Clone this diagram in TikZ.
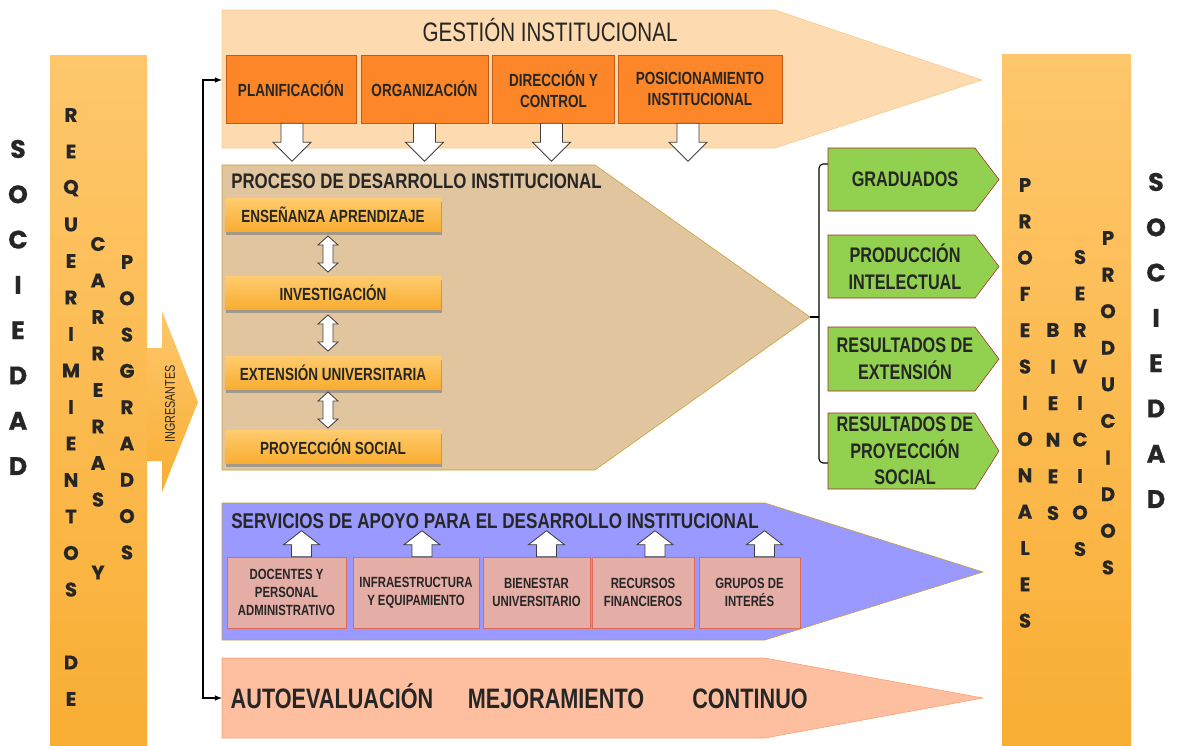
\documentclass[tikz,border=0pt]{standalone}
\usepackage{fontspec}
\setmainfont{Liberation Sans}
\newfontfamily\condfont[FakeStretch=0.77]{Liberation Sans}
\newfontfamily\titlefont[FakeStretch=0.8]{Liberation Sans}
\newfontfamily\gothfont[FakeBold=0.6]{Poppins}
\usetikzlibrary{calc,shadows,arrows.meta}

\definecolor{txtgray}{HTML}{262626}
\definecolor{barTop}{HTML}{FEC76C}
\definecolor{barBot}{HTML}{F9AE34}
\definecolor{gestFill}{HTML}{FDDAB0}
\definecolor{gestLine}{HTML}{F9C98E}
\definecolor{gestBox}{HTML}{FC8628}
\definecolor{gestBoxLine}{HTML}{C55A11}
\definecolor{procFill}{HTML}{E0C59F}
\definecolor{procLine}{HTML}{C8A030}
\definecolor{ensTop}{HTML}{FFCB6E}
\definecolor{ensBot}{HTML}{F9AD30}
\definecolor{greenFill}{HTML}{92D050}
\definecolor{greenLine}{HTML}{A52A2A}
\definecolor{servFill}{HTML}{9999FF}
\definecolor{servBox}{HTML}{E4ADA5}
\definecolor{servBoxLine}{HTML}{E06A55}
\definecolor{autoFill}{HTML}{FDBFA0}
\definecolor{autoLine}{HTML}{F9A070}

\begin{document}
\begin{tikzpicture}[x=0.025cm,y=-0.025cm,
    colletter/.style={inner sep=0pt,text=txtgray,font=\gothfont\bfseries\fontsize{14}{14}\selectfont},
    bigletter/.style={inner sep=0pt,text=txtgray,font=\gothfont\bfseries\fontsize{18}{18}\selectfont},
    gestbox/.style={draw=gestBoxLine,fill=gestBox,minimum height=1.7cm,inner sep=1pt,align=center,
        text=txtgray,font=\condfont\bfseries\fontsize{12.5}{15}\selectfont},
    ensbox/.style={top color=ensTop,bottom color=ensBot,minimum width=5.4cm,minimum height=0.82cm,inner sep=0pt,
        drop shadow={shadow xshift=0.6pt,shadow yshift=-2.2pt,opacity=0.65},
        text=txtgray,font=\condfont\bfseries\fontsize{12.5}{15}\selectfont},
    greentext/.style={align=center,inner sep=0pt,text=txtgray,font=\condfont\bfseries\fontsize{15}{19}\selectfont},
    servbox/.style={draw=servBoxLine,fill=servBox,minimum height=1.775cm,inner sep=1pt,align=center,
        text=txtgray,font=\condfont\bfseries\fontsize{10.5}{13}\selectfont},
    bigtitle/.style={anchor=west,inner sep=0pt,text=txtgray,font=\titlefont\bfseries\fontsize{15}{17}\selectfont},
    autotext/.style={anchor=base,inner sep=0pt,text=txtgray,font=\condfont\bfseries\fontsize{20}{22}\selectfont},
    blockarrow/.style={draw=black!75,fill=white,line width=0.6pt,line join=miter}]
\useasboundingbox (0,0) rectangle (1179,745);

% side bars
\shade[top color=barTop,bottom color=barBot] (50,55) rectangle (147,745);
\shade[top color=barTop,bottom color=barBot] (1002,54) rectangle (1131,745);
\shade[top color=barTop,bottom color=barBot] (147,348) -- (162,348) -- (162,311) -- (198,402)
    -- (162,492) -- (162,461) -- (147,461) -- cycle;
\node[rotate=90,inner sep=0pt,text=txtgray,font=\condfont\fontsize{10}{10}\selectfont] (ingr) at (170,404) {INGRESANTES};

% big arrows
\draw[draw=gestLine,fill=gestFill] (222,10) -- (775,10) -- (982,80) -- (775,148) -- (222,148) -- cycle;
\draw[draw=procLine,fill=procFill] (222,165) -- (595,165) -- (810,317) -- (595,470) -- (222,470) -- cycle;
\draw[draw=procLine,fill=servFill] (222,503) -- (765,503) -- (983,572) -- (765,640) -- (222,640) -- cycle;
\draw[draw=autoLine,fill=autoFill] (222,658) -- (765,658) -- (983,698) -- (765,738) -- (222,738) -- cycle;

% gestion institucional
\node[inner sep=0pt,text=txtgray,font=\condfont\fontsize{19}{22}\selectfont] (gesttitle) at (550,30) {GESTIÓN INSTITUCIONAL};
\node[gestbox,minimum width=3.25cm] (plan) at (291,89) {PLANIFICACIÓN};
\node[gestbox,minimum width=3.175cm] (org) at (424.5,89) {ORGANIZACIÓN};
\node[gestbox,minimum width=3.05cm] (dir) at (553.5,89) {DIRECCIÓN Y\\CONTROL};
\node[gestbox,minimum width=4.1cm] (pos) at (700,89) {POSICIONAMIENTO\\INSTITUCIONAL};
\foreach \n/\dx in {plan/1,org/0,dir/-2,pos/-12}
    \draw[blockarrow] ($(\n.south)+(\dx-11,0)$) -- ++(22,0) -- ++(0,19) -- ++(8,0) -- ++(-19,19)
        -- ++(-19,-19) -- ++(8,0) -- cycle;

% proceso de desarrollo institucional
\node[bigtitle] (proctitle) at (231,181) {PROCESO DE DESARROLLO INSTITUCIONAL};
\node[ensbox] (ens) at (333,215) {ENSEÑANZA APRENDIZAJE};
\node[ensbox] (inv) at (333,293) {INVESTIGACIÓN};
\node[ensbox] (ext) at (333,373) {EXTENSIÓN UNIVERSITARIA};
\node[ensbox] (proy) at (333,447) {PROYECCIÓN SOCIAL};
\foreach \a/\b [count=\i] in {ens/inv,inv/ext,ext/proy}{
    \coordinate (m\i) at ($(\a.south)!0.5!(\b.north)+(-5,0)$);
    \draw[blockarrow] ($(m\i)+(0,-18)$) -- ++(10,9) -- ++(-5,0) -- ++(0,18) -- ++(5,0) -- ++(-10,9)
        -- ++(-10,-9) -- ++(5,0) -- ++(0,-18) -- ++(-5,0) -- cycle;
}

% resultados
\draw[line width=0.8pt,rounded corners=3pt] (828,164) -- (819,164) -- (819,463) -- (828,463);
\draw[line width=0.8pt] (819,317) -- (810,317);
\foreach \n/\ya/\yb/\txt in {grad/148/211/GRADUADOS,
        prod/235/298/{PRODUCCIÓN\\INTELECTUAL},
        rext/327/391/{RESULTADOS DE\\EXTENSIÓN},
        rproy/413/489/{RESULTADOS DE\\PROYECCIÓN\\SOCIAL}}{
    \draw[draw=greenLine,fill=greenFill] (828,\ya) -- (975,\ya) -- (999,{(\ya+\yb)/2}) -- (975,\yb)
        -- (828,\yb) -- cycle;
    \node[greentext] (\n) at (905,{(\ya+\yb)/2}) {\txt};
}

% servicios de apoyo
\node[bigtitle,font=\titlefont\bfseries\fontsize{15.2}{17}\selectfont] (servtitle) at (231,521)
    {SERVICIOS DE APOYO PARA EL DESARROLLO INSTITUCIONAL};
\node[servbox,minimum width=2.975cm] (doc) at (286.5,592.5) {DOCENTES Y\\PERSONAL\\ADMINISTRATIVO};
\node[servbox,minimum width=3.15cm] (infra) at (416,592.5) {INFRAESTRUCTURA\\Y EQUIPAMIENTO};
\node[servbox,minimum width=2.675cm] (bien) at (536.5,592.5) {BIENESTAR\\UNIVERSITARIO};
\node[servbox,minimum width=2.55cm] (rec) at (643,592.5) {RECURSOS\\FINANCIEROS};
\node[servbox,minimum width=2.525cm] (grup) at (749.5,592.5) {GRUPOS DE\\INTERÉS};
\foreach \n/\dx in {doc/15,infra/6,bien/10,rec/12,grup/15}
    \draw[blockarrow] ($(\n.north)+(\dx-10,0)$) -- ++(20,0) -- ++(0,-12) -- ++(8,0) -- ++(-18,-14)
        -- ++(-18,14) -- ++(8,0) -- cycle;

% autoevaluacion
\node[autotext] (autoev) at (332,708) {AUTOEVALUACIÓN};
\node[autotext] (mejora) at (556,708) {MEJORAMIENTO};
\node[autotext] (contin) at (750,708) {CONTINUO};

% lazo de retroalimentacion
\coordinate (gestL) at (222,80);
\coordinate (autoL) at (222,698);
\draw[line width=0.8pt,{Latex[length=5pt,width=4pt]}-{Latex[length=5pt,width=4pt]}]
    (gestL) -- (203,80) -- (203,698) -- (autoL);

% letras verticales
\foreach \l [count=\i from 0] in {S,O,C,I,E,D,A,D}
    \node[bigletter] (socL\i) at (18,149+45.3*\i) {\l};
\foreach \l [count=\i from 0] in {R,E,Q,U,E,R,I,M,I,E,N,T,O,S,{},D,E}
    \node[colletter] (req\i) at (71,115+36.5*\i) {\l};
\foreach \l [count=\i from 0] in {C,A,R,R,E,R,A,S,{},Y}
    \node[colletter] (car\i) at (98,244+36.5*\i) {\l};
\foreach \l [count=\i from 0] in {P,O,S,G,R,A,D,O,S}
    \node[colletter] (posg\i) at (127,262+36.3*\i) {\l};
\foreach \l [count=\i from 0] in {P,R,O,F,E,S,I,O,N,A,L,E,S}
    \node[colletter] (prof\i) at (1025,185+36.3*\i) {\l};
\foreach \l [count=\i from 0] in {B,I,E,N,E,S}
    \node[colletter] (bien\i) at (1053,330+36.6*\i) {\l};
\foreach \l [count=\i from 0] in {S,E,R,V,I,C,I,O,S}
    \node[colletter] (serv\i) at (1080,257+36.5*\i) {\l};
\foreach \l [count=\i from 0] in {P,R,O,D,U,C,I,D,O,S}
    \node[colletter] (prod\i) at (1108,238+36.6*\i) {\l};
\foreach \l [count=\i from 0] in {S,O,C,I,E,D,A,D}
    \node[bigletter] (socR\i) at (1156,182+45.3*\i) {\l};
\end{tikzpicture}
\end{document}
